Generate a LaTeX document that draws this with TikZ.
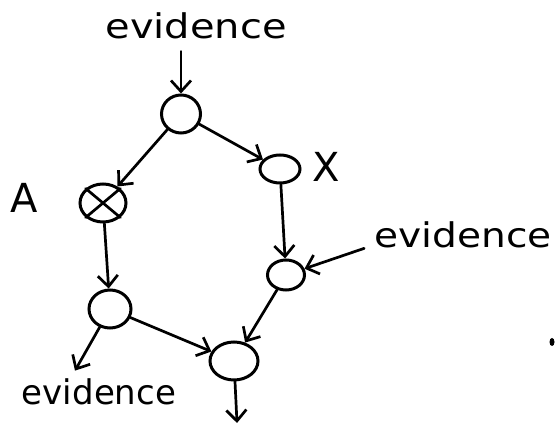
\documentclass[tikz,border=0pt]{standalone}
\usepackage{fontspec}
\usepackage{graphicx}
\setmainfont{DejaVu Sans}
\usetikzlibrary{arrows.meta,shapes.geometric}
\begin{document}
\begin{tikzpicture}[x=1pt,y=-1pt,
  state/.style={draw,ellipse,line width=3pt,inner sep=0pt},
  word/.style={inner sep=0pt,font=\fontsize{34}{40}\selectfont},
  letter/.style={inner sep=0pt,font=\fontsize{40}{46}\selectfont},
  link/.style={line width=2.7pt,line cap=round,-{Straight Barb[length=11pt,width=20pt,line width=2.7pt]}},
]
\useasboundingbox (0,0) rectangle (555,427);
% states
\node[state,minimum width=39pt,minimum height=38pt] (top) at (181,114) {};
\node[state,minimum width=46pt,minimum height=38pt] (a) at (103,203) {};
\node[state,minimum width=40pt,minimum height=28pt] (x) at (280,169) {};
\node[state,minimum width=42pt,minimum height=38pt] (lb) at (110,309) {};
\node[state,minimum width=37pt,minimum height=30pt] (rm) at (286,275) {};
\node[state,minimum width=48pt,minimum height=38pt] (bot) at (234,361) {};
% cross in A
\draw[line width=2.7pt,line cap=round] (a.north west) -- (a.south east) (a.south west) -- (a.north east);
% texts
\node[word] (ev1) at (196,26) {\scalebox{1.175}[1]{evidence}};
\node[word] (ev2) at (99,392) {\scalebox{1.0}[1]{evidence}};
\node[word] (ev3) at (463,235) {\scalebox{1.15}[1]{evidence}};
\node[letter] (la) at (24,198) {A};
\node[letter] (lx) at (326,167) {X};
\coordinate (out) at (237,423);
% connectors
\draw[link] ([yshift=-12pt]ev1.south -| top.north) -- (top.north);
\draw[link] (top) -- (a);
\draw[link] (top) -- (x);
\draw[link] (x) -- (rm);
\draw[link] (a) -- (lb);
\draw[link] (lb) -- ([xshift=-24pt,yshift=8pt]ev2.north);
\draw[link] (lb) -- (bot);
\draw[link] ([xshift=-10pt]ev3.south west) -- (rm);
\draw[link] (rm) -- (bot);
\draw[link] (bot) -- (out);
% stray mark
\fill (552,342) ellipse (2.5pt and 4pt);
\end{tikzpicture}
\end{document}
